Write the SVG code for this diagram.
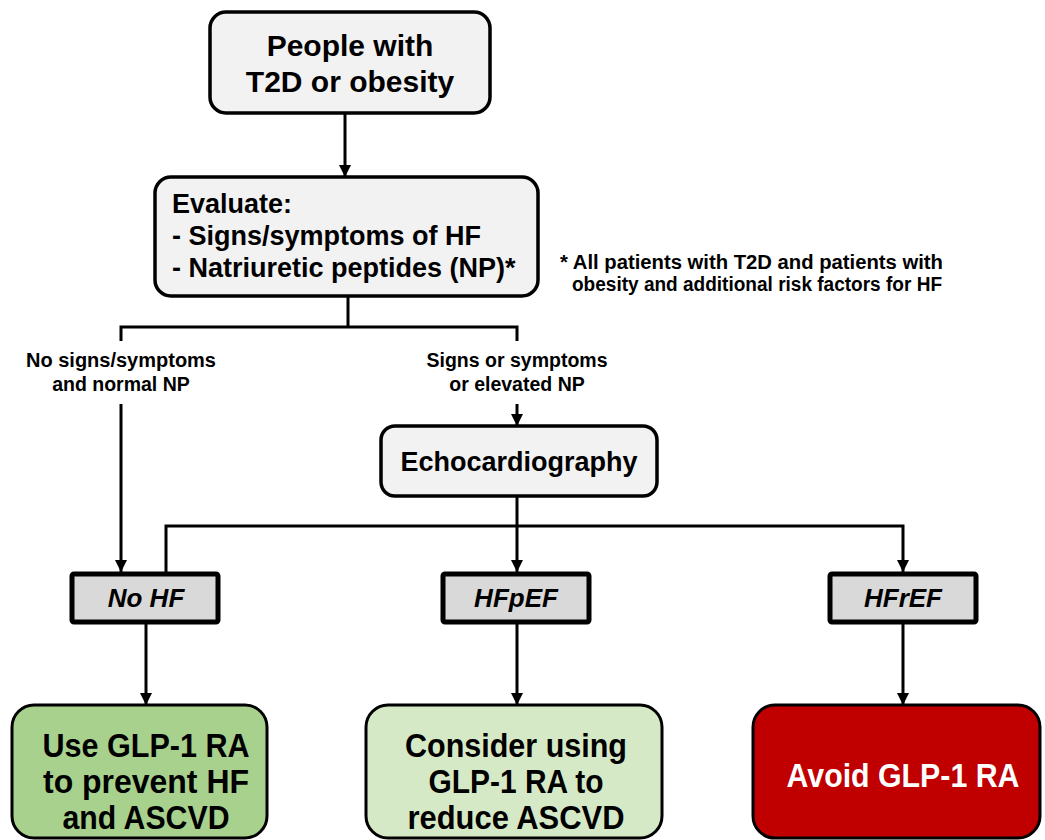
<svg xmlns="http://www.w3.org/2000/svg" width="1045" height="840" viewBox="0 0 1045 840">
<defs>
<marker id="ah" viewBox="0 0 10 10" refX="10" refY="5" markerWidth="4" markerHeight="4" markerUnits="strokeWidth" orient="auto">
<path d="M0,0 L10,5 L0,10 Z" fill="#000"/>
</marker>
<style>
text{font-family:"Liberation Sans",Arial,sans-serif;font-weight:bold;fill:#000}
.box{fill:#f2f2f2;stroke:#000;stroke-width:3.5}
.hf{fill:#d9d9d9;stroke:#000;stroke-width:5}
.big{font-size:30px;text-anchor:middle}
.mid{font-size:27px}
.lab{font-size:19.5px;text-anchor:middle}
.it{font-size:26px;font-style:italic;text-anchor:middle}
.out{font-size:34px;text-anchor:middle}
.conn{fill:none;stroke:#000;stroke-width:3}
</style>
</defs>
<rect width="1045" height="840" fill="#fff"/>
<g id="connectors">
<path class="conn" d="M345,113 V177" marker-end="url(#ah)"/>
<path class="conn" d="M348,296 V327 M121,341 V327 H517 V341"/>
<path class="conn" d="M121,404 V572" marker-end="url(#ah)"/>
<path class="conn" d="M517,404 V426" marker-end="url(#ah)"/>
<path class="conn" d="M517,496 V572" marker-end="url(#ah)"/>
<path class="conn" d="M166,572 V526 H903 V572" marker-end="url(#ah)"/>
<path class="conn" d="M146,622 V705" marker-end="url(#ah)"/>
<path class="conn" d="M517,622 V705" marker-end="url(#ah)"/>
<path class="conn" d="M903,622 V705" marker-end="url(#ah)"/>
</g>
<g id="start">
<rect class="box" x="210" y="12" width="280" height="101" rx="16"/>
<text class="big" x="350" y="56">People with</text>
<text class="big" x="350" y="92">T2D or obesity</text>
</g>
<g id="evaluate">
<rect class="box" x="155" y="177" width="383" height="119" rx="16"/>
<text class="mid" x="172" y="213">Evaluate:</text>
<text class="mid" x="172" y="245">- Signs/symptoms of HF</text>
<text class="mid" x="172" y="277">- Natriuretic peptides (NP)*</text>
</g>
<g id="footnote">
<text x="560" y="269" font-size="19.5px" textLength="383" lengthAdjust="spacingAndGlyphs">* All patients with T2D and patients with</text>
<text x="572" y="291" font-size="19.5px" textLength="370" lengthAdjust="spacingAndGlyphs">obesity and additional risk factors for HF</text>
</g>
<g id="label-no">
<text class="lab" x="121" y="367" textLength="190" lengthAdjust="spacingAndGlyphs">No signs/symptoms</text>
<text class="lab" x="121" y="391">and normal NP</text>
</g>
<g id="label-yes">
<text class="lab" x="517" y="367">Signs or symptoms</text>
<text class="lab" x="517" y="391">or elevated NP</text>
</g>
<g id="echo">
<rect class="box" x="381" y="426" width="276" height="70" rx="14"/>
<text x="519" y="471" font-size="28px" text-anchor="middle" textLength="237" lengthAdjust="spacingAndGlyphs">Echocardiography</text>
</g>
<g id="nohf">
<rect class="hf" x="72" y="574" width="146" height="48" rx="2"/>
<text class="it" x="146" y="607">No HF</text>
</g>
<g id="hfpef">
<rect class="hf" x="443" y="574" width="146" height="48" rx="2"/>
<text class="it" x="516" y="607">HFpEF</text>
</g>
<g id="hfref">
<rect class="hf" x="830" y="574" width="146" height="48" rx="2"/>
<text class="it" x="903" y="607">HFrEF</text>
</g>
<g id="use">
<rect x="12" y="705" width="255" height="133" rx="22" fill="#a9d18e" stroke="#000" stroke-width="3"/>
<text class="out" x="146" y="757" textLength="207" lengthAdjust="spacingAndGlyphs">Use GLP-1 RA</text>
<text class="out" x="146" y="793" textLength="206" lengthAdjust="spacingAndGlyphs">to prevent HF</text>
<text class="out" x="146" y="829" textLength="167" lengthAdjust="spacingAndGlyphs">and ASCVD</text>
</g>
<g id="consider">
<rect x="366" y="705" width="296" height="133" rx="22" fill="#d6e9c6" stroke="#000" stroke-width="3"/>
<text class="out" x="516" y="757" textLength="222" lengthAdjust="spacingAndGlyphs">Consider using</text>
<text class="out" x="516" y="793" textLength="175" lengthAdjust="spacingAndGlyphs">GLP-1 RA to</text>
<text class="out" x="516" y="829" textLength="217" lengthAdjust="spacingAndGlyphs">reduce ASCVD</text>
</g>
<g id="avoid">
<rect x="753" y="705" width="287" height="133" rx="22" fill="#c00000" stroke="#000" stroke-width="3"/>
<text class="out" x="903" y="787" textLength="233" lengthAdjust="spacingAndGlyphs" style="fill:#fff">Avoid GLP-1 RA</text>
</g>
</svg>
